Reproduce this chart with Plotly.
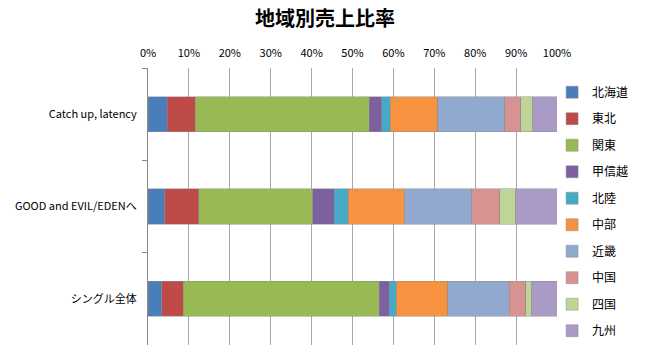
import plotly.graph_objects as go

categories = ["Catch up, latency", "GOOD and EVIL/EDENへ", "シングル全体"]
regions = ["北海道", "東北", "関東", "甲信越", "北陸", "中部", "近畿", "中国", "四国", "九州"]
values = {
    "北海道": [4.7, 4.1, 3.3],
    "東北":   [6.9, 8.3, 5.3],
    "関東":   [42.5, 27.9, 47.9],
    "甲信越": [3.1, 5.2, 2.5],
    "北陸":   [2.0, 3.4, 1.7],
    "中部":   [11.6, 13.8, 12.6],
    "近畿":   [16.4, 16.4, 15.0],
    "中国":   [3.9, 6.9, 4.1],
    "四国":   [3.0, 3.9, 1.4],
    "九州":   [5.9, 10.1, 6.2],
}
colors = ["#4A7EBB", "#BE4B48", "#98B954", "#7D60A0", "#46AAC5",
          "#F69240", "#92A9CF", "#D69391", "#BFD598", "#A99BC6"]
x_ticks = [i / 10 for i in range(11)]
x_tick_labels = [f"{i*10}%" for i in range(11)]

font_fam = "Noto Sans CJK JP, Open Sans, sans-serif"

fig = go.Figure()
for i, r in enumerate(regions):
    vals = values[r]
    fig.add_trace(go.Bar(
        y=categories, x=vals, name=r, orientation="h",
        marker=dict(color=colors[i], line=dict(color="rgba(140,140,140,0.6)", width=0.8)),
        legendgroup=r,
    ))

fig.update_layout(
    barmode="stack", barnorm="fraction",
    width=650, height=354,
    margin=dict(l=148, r=93, t=68, b=9, autoexpand=False),
    plot_bgcolor="white", paper_bgcolor="white",
    bargap=0.62,
    font=dict(family=font_fam, size=11, color="#000"),
    title=dict(text="<b>地域別売上比率</b>", x=0.5, xanchor="center", y=0.945, yanchor="middle",
               font=dict(family=font_fam, size=20, color="#000")),
    xaxis=dict(side="top", range=[0, 1], tickvals=x_ticks, ticktext=x_tick_labels,
               showgrid=True, gridcolor="#A8A8A8", gridwidth=1, zeroline=False,
               showline=False, ticks="", tickfont=dict(size=11), ticklabelstandoff=8,
               fixedrange=True),
    yaxis=dict(categoryorder="array", categoryarray=categories, autorange="reversed",
               tickson="boundaries", ticks="outside", ticklen=5, tickcolor="#888",
               showline=True, linecolor="#888", showgrid=False,
               tickfont=dict(size=11), ticklabelstandoff=8),
    legend=dict(x=0.988, xanchor="left", y=0.965, yanchor="top",
                traceorder="grouped", bgcolor="rgba(0,0,0,0)",
                tracegroupgap=7.5, font=dict(size=12), itemwidth=30),
    showlegend=True,
)

fig.write_html("out.html")
